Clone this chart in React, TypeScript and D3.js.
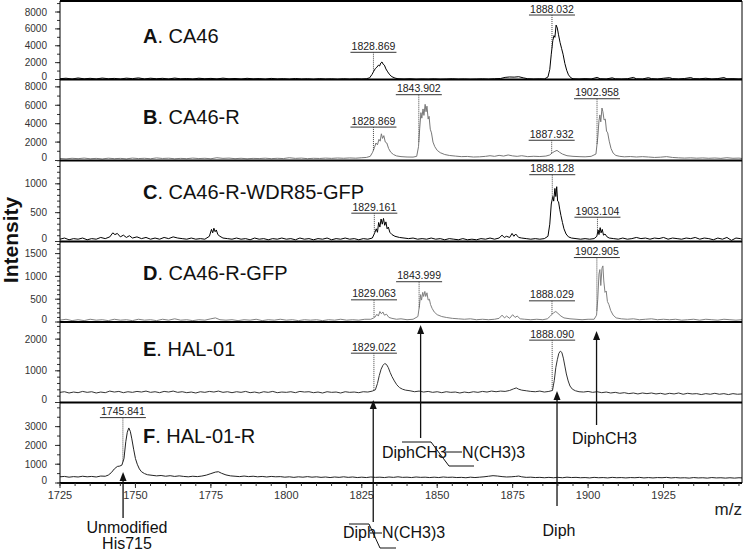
import React from "react";
import * as d3 from "d3";

// ---------- DATA ----------
const mzDomain = [1725, 1951];
const xTickMajors = [1725, 1750, 1775, 1800, 1825, 1850, 1875, 1900, 1925];

const panelNames = [
  ["A", ". CA46"],
  ["B", ". CA46-R"],
  ["C", ". CA46-R-WDR85-GFP"],
  ["D", ". CA46-R-GFP"],
  ["E", ". HAL-01"],
  ["F", ". HAL-01-R"],
];
const panelMax = [9304, 8800, 1404, 1765, 2540, 4285];
const panelTicks = [
  [0, 2000, 4000, 6000, 8000],
  [0, 2000, 4000, 6000, 8000],
  [0, 500, 1000],
  [0, 500, 1000, 1500],
  [0, 1000, 2000],
  [0, 1000, 2000, 3000],
];
const panelMinorStep = [1000, 1000, 100, 100, 200, 500];

const specA = [[1725,90],[1727,150],[1729,60],[1731,180],[1733,80],[1735,140],[1737,70],[1739,170],[1741,90],[1743,130],[1745,60],[1747,160],[1749,100],[1751,190],[1753,70],[1755,150],[1757,90],[1759,140],[1761,60],[1763,170],[1765,80],[1767,120],[1769,60],[1771,150],[1773,90],[1775,130],[1777,70],[1779,160],[1781,80],[1783,120],[1785,60],[1787,140],[1789,80],[1791,110],[1793,50],[1795,130],[1797,70],[1799,100],[1801,50],[1803,120],[1805,60],[1807,90],[1809,40],[1811,100],[1813,60],[1815,80],[1817,40],[1819,90],[1821,50],[1823,80],[1825,60],[1826.5,90],
[1827.6,200],[1828.4,600],[1829.0,1000],[1829.5,1300],[1830.0,1450],[1830.5,1700],[1830.9,1600],[1831.3,1950],[1831.7,2080],[1832.1,1800],[1832.5,1700],[1833.0,1250],[1833.6,900],[1834.3,550],[1835.0,330],[1836.0,170],[1837.0,90],
[1839,60],[1841,90],[1843,40],[1845,70],[1847,50],[1849,80],[1851,40],[1853,60],[1855,90],[1857,50],[1859,70],[1861,40],[1863,60],[1865,80],[1867,50],[1869,90],[1871,120],[1872.5,250],[1874,300],[1875.5,280],[1877,330],[1878.5,200],[1880,90],[1882,60],[1884,80],[1885.5,60],
[1886.7,300],[1887.3,1200],[1887.8,3000],[1888.3,4600],[1888.7,5200],[1889.0,5000],[1889.4,6450],[1889.8,6100],[1890.2,5300],[1890.7,4400],[1891.2,3700],[1891.7,3000],[1892.3,1900],[1892.9,1100],[1893.5,550],[1894.3,200],[1895,90],
[1897,60],[1899,100],[1901,60],[1903,250],[1904,90],[1906,60],[1908,200],[1909,80],[1911,60],[1913,90],[1915,250],[1916,80],[1918,60],[1920,220],[1921,100],[1923,60],[1925,150],[1927,220],[1928,100],[1930,60],[1932,120],[1934,230],[1935,100],[1937,80],[1939,150],[1941,60],[1943,110],[1945,230],[1946,80],[1948,100],[1950,60],[1951,90]];

const specB = [[1725,220],[1727,180],[1729,240],[1731,200],[1733,260],[1735,190],[1737,230],[1739,170],[1741,250],[1743,200],[1745,230],[1747,180],[1749,260],[1751,210],[1753,240],[1755,190],[1757,280],[1759,220],[1761,250],[1763,190],[1765,230],[1767,200],[1769,260],[1771,210],[1773,240],[1775,190],[1777,300],[1779,230],[1781,260],[1783,200],[1785,240],[1787,190],[1789,230],[1791,210],[1793,250],[1795,200],[1797,240],[1799,210],[1801,300],[1803,230],[1805,260],[1807,200],[1809,240],[1811,220],[1813,260],[1815,230],[1817,270],[1819,240],[1821,280],[1823,250],[1825,300],[1826.5,330],
[1827.8,450],[1828.6,900],[1829.2,1400],[1829.7,1900],[1830.2,1700],[1830.7,2300],[1831.1,2100],[1831.5,2900],[1831.9,2400],[1832.3,2700],[1832.8,2000],[1833.3,1900],[1833.9,1300],[1834.6,900],[1835.5,650],[1836.5,500],[1838,420],[1840,380],[1842,370],[1843.2,450],
[1843.8,1500],[1844.2,3500],[1844.6,5200],[1844.9,4600],[1845.3,5600],[1845.6,4900],[1846.0,6100],[1846.3,5300],[1846.6,5900],[1847.0,4500],[1847.3,4800],[1847.7,3400],[1848.1,3000],[1848.6,2000],[1849.2,1500],[1850,1100],[1851,850],[1852.5,650],[1854,550],[1856,480],[1858,420],[1860,440],[1862,380],[1864,400],[1866,450],[1867.5,520],[1869,450],[1870.5,560],[1872,480],[1873.5,600],[1875,500],[1876.5,450],[1878,520],[1880,420],[1882,460],[1884,430],[1886,480],
[1887.3,600],[1888.2,850],[1889,1000],[1889.7,1100],[1890.5,900],[1891.5,700],[1893,520],[1895,450],[1897,420],[1899,400],[1901,450],[1902.6,700],
[1903.2,2500],[1903.6,4300],[1903.9,4950],[1904.2,4200],[1904.6,5700],[1904.9,5300],[1905.3,4400],[1905.7,4500],[1906.1,3200],[1906.5,3000],[1907,2100],[1907.6,1300],[1908.3,800],[1909.2,550],[1910.5,450],[1912,400],[1914,430],[1916,380],[1918,420],[1920,380],[1922,330],[1924,360],[1926,420],[1928,330],[1930,290],[1932,260],[1934,290],[1936,250],[1938,280],[1940,240],[1942,270],[1944,230],[1946,300],[1948,240],[1950,260],[1951,220]];

const specC = [[1725,40],[1726.5,60],[1728,30],[1729.5,50],[1731,40],[1732.5,60],[1734,30],[1735.5,50],[1737,40],[1738.5,70],[1740,50],[1741.5,80],[1742.5,150],[1743.2,120],[1744,140],[1745,80],[1746,110],[1747,70],[1748,100],[1749,60],[1750.5,80],[1752,50],[1753.5,70],[1755,40],[1756.5,60],[1758,40],[1759.5,70],[1761,50],[1762.5,80],[1764,60],[1765.5,50],[1767,40],[1768.5,60],[1770,40],[1771.5,50],[1773,40],[1774.5,90],[1775.2,210],[1775.6,150],[1776,230],[1776.4,170],[1776.8,200],[1777.3,120],[1778,90],[1779,60],[1780.5,50],[1782,40],[1783.5,60],[1785,40],[1786.5,50],[1788,30],[1789.5,60],[1791,40],[1792.5,50],[1794,30],[1795.5,50],[1797,40],[1798.5,60],[1800,40],[1801.5,50],[1803,30],[1804.5,60],[1806,40],[1807.5,50],[1809,30],[1810.5,50],[1812,40],[1813.5,60],[1815,30],[1816.5,50],[1818,40],[1819.5,60],[1821,40],[1822.5,50],[1824,30],[1825.5,50],[1827,40],[1828.5,60],
[1829.3,150],[1829.8,220],[1830.2,160],[1830.6,330],[1831,250],[1831.4,390],[1831.8,300],[1832.2,400],[1832.6,280],[1833,340],[1833.4,220],[1833.8,250],[1834.3,160],[1835,120],[1836,90],[1837.5,70],[1839,60],[1840.5,50],[1842,60],[1843.5,40],[1845,50],[1846.5,40],[1848,60],[1849.5,40],[1851,50],[1852.5,30],[1854,50],[1855.5,40],[1857,30],[1858.5,50],[1860,30],[1861.5,40],[1863,30],[1864.5,50],[1866,40],[1867.5,60],[1869,40],[1870.5,60],[1871.5,110],[1872.2,70],[1873,90],[1874,70],[1874.8,140],[1875.4,90],[1876,130],[1877,70],[1878,60],[1879.5,50],[1881,40],[1882.5,50],[1884,40],[1885.5,50],[1886.7,90],
[1887.3,300],[1887.8,650],[1888.3,780],[1888.6,700],[1889,920],[1889.3,780],[1889.6,950],[1889.9,700],[1890.2,690],[1890.6,560],[1891,450],[1891.5,330],[1892,220],[1892.7,130],[1893.5,80],[1894.5,60],[1896,50],[1897.5,40],[1899,50],[1900.5,40],[1902,50],[1902.9,90],
[1903.3,200],[1903.6,120],[1904,240],[1904.3,150],[1904.7,210],[1905.1,110],[1905.6,130],[1906.3,80],[1907,60],[1908.5,50],[1910,40],[1911.5,60],[1913,40],[1914.5,50],[1916,70],[1917.5,50],[1919,60],[1920.5,40],[1922,60],[1923.5,50],[1925,70],[1926.5,40],[1928,60],[1929.5,50],[1931,40],[1932.5,60],[1934,50],[1935.5,70],[1937,40],[1938.5,60],[1940,50],[1941.5,30],[1943,60],[1944.5,40],[1946,70],[1947.5,20],[1949,60],[1950.5,50],[1951,40]];

const specD = [[1725,40],[1727,60],[1729,30],[1731,50],[1733,30],[1735,60],[1737,40],[1739,50],[1741,30],[1743,60],[1745,40],[1747,50],[1749,30],[1751,60],[1753,40],[1755,50],[1757,30],[1759,60],[1761,40],[1763,70],[1765,40],[1767,50],[1769,30],[1771,50],[1773,40],[1775,70],[1776.5,90],[1778,50],[1780,40],[1782,50],[1784,30],[1786,50],[1788,40],[1790,60],[1792,30],[1794,50],[1796,40],[1798,60],[1800,40],[1802,50],[1804,30],[1806,50],[1808,40],[1810,50],[1812,30],[1814,50],[1816,40],[1818,60],[1820,40],[1822,50],[1824,40],[1826,60],[1828,60],
[1829.3,100],[1830,170],[1830.5,130],[1831,230],[1831.5,180],[1832,220],[1832.5,150],[1833.2,170],[1834,100],[1835,80],[1836.5,60],[1838,70],[1840,50],[1842,60],[1843.6,120],
[1844.1,350],[1844.5,600],[1844.8,480],[1845.2,650],[1845.5,560],[1845.9,670],[1846.2,560],[1846.6,640],[1847,480],[1847.4,500],[1847.8,380],[1848.3,300],[1849,220],[1850,160],[1851.5,120],[1853,100],[1855,80],[1857,70],[1859,60],[1861,70],[1863,50],[1865,60],[1867,50],[1869,60],[1870.5,80],[1871.5,150],[1872.3,90],[1873,130],[1874,80],[1875,160],[1875.8,100],[1876.5,130],[1877.5,70],[1879,60],[1881,50],[1883,60],[1885,50],[1886.5,70],
[1887.5,130],[1888.5,200],[1889.3,230],[1890,190],[1891,130],[1892,90],[1894,70],[1896,60],[1898,50],[1900,60],[1902,60],[1902.8,150],
[1903.2,500],[1903.6,1050],[1903.9,1150],[1904.2,800],[1904.6,1180],[1904.9,1230],[1905.2,900],[1905.6,650],[1906,680],[1906.4,450],[1906.9,380],[1907.5,250],[1908.3,150],[1909.3,90],[1911,70],[1913,60],[1915,70],[1917,50],[1919,60],[1921,70],[1923,50],[1925,60],[1927,50],[1929,60],[1931,40],[1933,50],[1935,60],[1937,40],[1939,60],[1941,50],[1943,40],[1945,60],[1947,50],[1949,40],[1951,50]];

const specE = [[1725,320],[1726.5,340],[1728,300],[1729.5,330],[1731,310],[1732.5,350],[1734,320],[1735.5,340],[1737,300],[1738.5,330],[1740,310],[1741.5,360],[1743,330],[1744.5,350],[1746,310],[1747.5,340],[1749,320],[1750.5,350],[1752,330],[1753.5,360],[1755,320],[1756.5,340],[1758,310],[1759.5,350],[1761,330],[1762.5,360],[1764,320],[1765.5,340],[1767,310],[1768.5,330],[1770,300],[1771.5,340],[1773,320],[1774.5,350],[1776,330],[1777.5,360],[1779,320],[1780.5,340],[1782,310],[1783.5,340],[1785,320],[1786.5,350],[1788,310],[1789.5,330],[1791,300],[1792.5,340],[1794,320],[1795.5,350],[1797,310],[1798.5,330],[1800,320],[1801.5,340],[1803,310],[1804.5,350],[1806,330],[1807.5,340],[1809,310],[1810.5,330],[1812,300],[1813.5,340],[1815,320],[1816.5,330],[1818,300],[1819.5,340],[1821,320],[1822.5,330],[1824,310],[1825.5,340],[1827,330],[1828.5,360],[1829.5,400],
[1830.2,600],[1830.8,850],[1831.4,1050],[1832,1170],[1832.6,1230],[1833.2,1200],[1833.8,1100],[1834.4,950],[1835,820],[1835.8,680],[1836.6,560],[1837.5,470],[1838.5,420],[1839.5,390],[1841,370],[1842.5,340],[1844,360],[1845.5,330],[1847,350],[1848.5,320],[1850,340],[1851.5,310],[1853,340],[1854.5,320],[1856,330],[1857.5,300],[1859,330],[1860.5,310],[1862,340],[1863.5,320],[1865,350],[1866.5,330],[1868,360],[1869.5,340],[1871,360],[1872.5,350],[1874,380],[1875.3,430],[1876.2,460],[1877,420],[1878,390],[1879.5,370],[1881,350],[1882.5,340],[1884,360],[1885.5,330],[1887,350],[1888.2,380],
[1888.8,700],[1889.3,1100],[1889.8,1350],[1890.3,1550],[1890.8,1620],[1891.3,1580],[1891.8,1400],[1892.3,1150],[1892.8,900],[1893.4,680],[1894,520],[1894.8,420],[1895.8,370],[1897,340],[1898.5,330],[1900,350],[1901.5,320],[1903,340],[1904.5,310],[1906,330],[1907.5,300],[1909,320],[1910.5,290],[1912,310],[1913.5,280],[1915,300],[1916.5,270],[1918,300],[1919.5,280],[1921,300],[1922.5,270],[1924,290],[1925.5,260],[1927,290],[1928.5,270],[1930,300],[1931.5,260],[1933,290],[1934.5,270],[1936,280],[1937.5,250],[1939,280],[1940.5,260],[1942,290],[1943.5,260],[1945,280],[1946.5,250],[1948,280],[1949.5,260],[1951,270]];

const specF = [[1725,330],[1726.5,350],[1728,310],[1729.5,340],[1731,320],[1732.5,360],[1734,330],[1735.5,350],[1737,320],[1738.5,370],[1740,360],[1741,420],[1742,550],[1743,750],[1744,880],[1744.8,900],[1745.5,950],[1746.2,1300],[1746.8,2200],[1747.3,2700],[1747.8,2930],[1748.3,2750],[1748.8,2350],[1749.4,1800],[1750,1300],[1750.6,1000],[1751.3,750],[1752,600],[1753,500],[1754,440],[1755.5,410],[1757,380],[1758.5,400],[1760,360],[1761.5,390],[1763,350],[1764.5,380],[1766,350],[1767.5,330],[1769,360],[1770.5,340],[1772,370],[1773.5,420],[1775,500],[1776.5,580],[1777.5,600],[1778.5,520],[1780,430],[1781.5,380],[1783,360],[1784.5,340],[1786,370],[1787.5,340],[1789,360],[1790.5,330],[1792,350],[1793.5,320],[1795,350],[1796.5,330],[1798,340],[1799.5,310],[1801,330],[1802.5,300],[1804,330],[1805.5,310],[1807,340],[1808.5,310],[1810,330],[1811.5,300],[1813,320],[1814.5,290],[1816,320],[1817.5,300],[1819,330],[1820.5,300],[1822,320],[1823.5,290],[1825,310],[1826.5,290],[1828,320],[1829.5,300],[1831,310],[1832.5,290],[1834,320],[1835.5,300],[1837,330],[1838.5,300],[1840,310],[1841.5,290],[1843,320],[1844.5,300],[1846,310],[1847.5,290],[1849,310],[1850.5,290],[1852,320],[1853.5,300],[1855,310],[1856.5,290],[1858,300],[1859.5,280],[1861,310],[1862.5,290],[1864,310],[1865.5,330],[1867,360],[1868.5,390],[1870,370],[1871.5,340],[1873,320],[1874.5,330],[1876,350],[1877,370],[1878,330],[1879.5,300],[1881,310],[1882.5,290],[1884,300],[1885.5,280],[1887,300],[1888.5,280],[1890,300],[1891.5,280],[1893,310],[1894.5,290],[1896,300],[1897.5,280],[1899,290],[1900.5,270],[1902,300],[1903.5,280],[1905,290],[1906.5,270],[1908,300],[1909.5,280],[1911,290],[1912.5,270],[1914,290],[1915.5,280],[1917,300],[1918.5,270],[1920,290],[1921.5,270],[1923,290],[1924.5,280],[1926,300],[1927.5,270],[1929,290],[1930.5,270],[1932,280],[1933.5,260],[1935,290],[1936.5,270],[1938,280],[1939.5,260],[1941,290],[1942.5,270],[1944,280],[1945.5,260],[1947,280],[1948.5,260],[1950,280],[1951,270]];

const spectra = [specA, specB, specC, specD, specE, specF];

// peak labels: [m/z, label level (intensity units)]
const peaksA = [[1828.869, 3224], [1888.032, 7642]];
const peaksB = [[1843.902, 7150], [1828.869, 3630], [1887.932, 2200], [1902.958, 6710]];
const peaksC = [[1829.161, 491], [1888.128, 1158], [1903.104, 421]];
const peaksD = [[1843.999, 883], [1829.063, 486], [1888.029, 464], [1902.905, 1413]];
const peaksE = [[1829.022, 1556], [1888.090, 1968]];
const peaksF = [[1745.841, 3481]];
const peakLabels = [peaksA, peaksB, peaksC, peaksD, peaksE, peaksF];

// annotation arrows at m/z
const arrowMz = [1745.9, 1828.8, 1844.5, 1889.7, 1902.8];

// ---------- LAYOUT ----------
const W = 745, H = 551;
const X0 = 60, X1 = 742;
const bounds = [1, 79.5, 160.5, 241.5, 322, 402.5, 483];
const labelBaselines = [43, 124, 199, 280, 356, 443];
const lineColors = ["#000", "#777", "#000", "#808080", "#333", "#222"];
const FONT = "'Liberation Sans', Arial, Helvetica, sans-serif";
// arrows: tip y, tail y
const arrowYs = [[472, 518], [400, 522], [325, 438], [391, 506], [331, 425]];

export default function App() {
  const x = d3.scaleLinear().domain(mzDomain).range([X0, X1]);
  const xMinor = d3.range(1725, 1952, 5);

  const panels = spectra.map((spec, i) => {
    const y = d3.scaleLinear().domain([0, panelMax[i]]).range([bounds[i + 1], bounds[i]]);
    const line = d3.line<number[]>().x((d) => x(d[0])).y((d) => y(d[1]));
    const minors = d3.range(0, panelMax[i], panelMinorStep[i]);
    const bis = d3.bisector((d: number[]) => d[0]).left;
    const interp = (m: number) => {
      const k = bis(spec, m);
      if (k <= 0) return spec[0][1];
      if (k >= spec.length) return spec[spec.length - 1][1];
      const a = spec[k - 1], b = spec[k];
      const t = (m - a[0]) / (b[0] - a[0]);
      return a[1] + t * (b[1] - a[1]);
    };
    return { y, path: line(spec as any), minors, interp, i };
  });

  const arrow = (k: number) => {
    const ax = x(arrowMz[k]);
    const [tip, tail] = arrowYs[k];
    return (
      <g key={"ar" + k}>
        <line x1={ax} x2={ax} y1={tip + 6} y2={tail} stroke="#111" strokeWidth={1.3} />
        <polygon points={`${ax},${tip} ${ax - 3.5},${tip + 9} ${ax + 3.5},${tip + 9}`} fill="#111" />
      </g>
    );
  };

  return (
    <svg width={W} height={H} style={{ position: "absolute", left: 0, top: 0, background: "#fff" }} fontFamily={FONT}>
      <defs>
        {panels.map((p) => (
          <clipPath id={"clip" + p.i} key={"c" + p.i}>
            <rect x={X0} y={bounds[p.i]} width={X1 - X0} height={bounds[p.i + 1] - bounds[p.i]} />
          </clipPath>
        ))}
      </defs>

      {panels.map((p) => (
        <g key={"p" + p.i}>
          <path d={p.path || ""} fill="none" stroke={lineColors[p.i]} strokeWidth={1} clipPath={`url(#clip${p.i})`} />
          {p.minors.map((v) => (
            <line key={"mn" + v} x1={X0 - 3} x2={X0} y1={p.y(v)} y2={p.y(v)} stroke="#333" strokeWidth={1} />
          ))}
          {panelTicks[p.i].map((v) => (
            <g key={"mj" + v}>
              <line x1={X0 - 5} x2={X0} y1={p.y(v)} y2={p.y(v)} stroke="#333" strokeWidth={1} />
              <text x={47} y={p.y(v) - (v === 0 ? 3 : 0)} dy="0.35em" textAnchor="end" fontSize={10} fill="#333">{v}</text>
            </g>
          ))}
          <text x={143} y={labelBaselines[p.i]} fontSize={20} fill="#111">
            <tspan fontWeight="bold">{panelNames[p.i][0]}</tspan>{panelNames[p.i][1]}
          </text>
          {peakLabels[p.i].map(([m, lvl]) => {
            const px = x(m);
            const ly = p.y(lvl);
            const py = p.y(p.interp(m));
            return (
              <g key={"pk" + m}>
                <text x={px} y={ly - 2.5} textAnchor="middle" fontSize={10.5} fill="#222">{m.toFixed(3)}</text>
                <line x1={px - 23} x2={px + 23} y1={ly} y2={ly} stroke="#333" strokeWidth={1} />
                <line x1={px} x2={px} y1={ly} y2={py} stroke="#444" strokeWidth={1} strokeDasharray="1,1" />
              </g>
            );
          })}
        </g>
      ))}

      {bounds.map((b, k) => (
        <line key={"b" + k} x1={X0} x2={X1} y1={b} y2={b} stroke="#000" strokeWidth={2} />
      ))}
      <line x1={X0} x2={X0} y1={bounds[0]} y2={bounds[6]} stroke="#000" strokeWidth={1} />
      <line x1={X1} x2={X1} y1={bounds[0]} y2={bounds[6]} stroke="#000" strokeWidth={1} />

      {xMinor.map((v) => (
        <line key={"xm" + v} x1={x(v)} x2={x(v)} y1={bounds[6]} y2={bounds[6] + 3} stroke="#333" strokeWidth={1} />
      ))}
      {xTickMajors.map((v) => (
        <g key={"xt" + v}>
          <line x1={x(v)} x2={x(v)} y1={bounds[6]} y2={bounds[6] + 5} stroke="#333" strokeWidth={1} />
          <text x={x(v)} y={499} textAnchor="middle" fontSize={11} fill="#333">{v}</text>
        </g>
      ))}
      <text x={742} y={515} textAnchor="end" fontSize={17} fill="#222">m/z</text>

      <text transform="translate(18,240) rotate(-90)" textAnchor="middle" fontSize={21} fontWeight="bold" fill="#111">Intensity</text>

      {arrowMz.map((_, k) => arrow(k))}
      <text x={127} y={533} textAnchor="middle" fontSize={16} fill="#111">Unmodified</text>
      <text x={127} y={549} textAnchor="middle" fontSize={16} fill="#111">His715</text>

      <text x={343} y={538} fontSize={16} fill="#111">Diph</text>
      <text x={382} y={538} fontSize={16} fill="#111">N(CH3)3</text>
      <polyline points="349,524 369,524 380,548 396,548" fill="none" stroke="#111" strokeWidth={1} />
      <line x1={370} x2={382} y1={533} y2={533} stroke="#111" strokeWidth={1} />

      <text x={382} y={458} fontSize={16} fill="#111">DiphCH3</text>
      <text x={462} y={458} fontSize={16} fill="#111">N(CH3)3</text>
      <polyline points="402,442 431,442 449,466 474,466" fill="none" stroke="#111" strokeWidth={1} />
      <line x1={445} x2={462} y1={452} y2={452} stroke="#111" strokeWidth={1} />

      <text x={559} y={536} textAnchor="middle" fontSize={16} fill="#111">Diph</text>
      <text x={572} y={444} fontSize={16} fill="#111">DiphCH3</text>
    </svg>
  );
}
